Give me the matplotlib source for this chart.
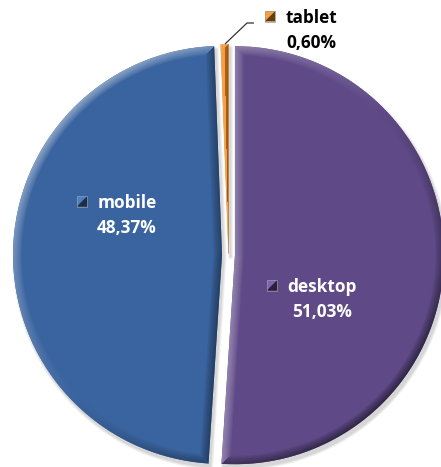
import numpy as np
import matplotlib
matplotlib.use('Agg')
import matplotlib.pyplot as plt
from matplotlib.patches import Polygon, Rectangle
from matplotlib.transforms import IdentityTransform
from matplotlib.colors import to_rgb

# ---- data ----
categories = ['desktop', 'mobile', 'tablet']
shares = [51.03, 48.37, 0.60]
value_labels = ['51,03%', '48,37%', '0,60%']

# ---- styling ----
slice_colors = ['#5F4A87', '#3A649F', '#EE8416']
marker_light = ['#7E62B4', '#4E7FC4', '#F7A040']
marker_dark = ['#2B2040', '#1C2E4C', '#6B3C0A']
text_colors = ['white', 'white', 'black']

W, H, DPI = 441, 467, 100
R_PX = 209.0
CX, CY = 228.5, 255.0  # pie centre in image pixels (from top-left)


def px(x, y):
    return ((x - CX) / R_PX, (CY - y) / R_PX)


fig = plt.figure(figsize=(W / DPI, H / DPI), dpi=DPI)
ax = fig.add_axes([0, 0, 1, 1])
x0, y1 = px(0, 0)
x1, y0 = px(W, H)

wedges, _ = ax.pie(shares, colors=slice_colors, startangle=90, counterclock=False,
                   explode=[0.031, 0.031, 0.008], radius=1.0,
                   wedgeprops=dict(linewidth=0, antialiased=True))
for w in wedges:
    w.set_zorder(1)

# ---- bevel shading drawn from each wedge's geometry ----
jj = np.arange(W)
ii = np.arange(H)
gx = x0 + (jj + 0.5) / R_PX
gy = y1 - (ii + 0.5) / R_PX
GX, GY = np.meshgrid(gx, gy)
L = np.array([-1.0, 1.0]) / np.sqrt(2)
BEVEL_PX = 9.0


def wedge_field(w, ox=0.0, oy=0.0):
    c = np.array(w.center) + np.array([ox, oy])
    r = w.r
    t1, t2 = np.radians(w.theta1), np.radians(w.theta2)
    vx = GX - c[0]
    vy = GY - c[1]
    dist = np.hypot(vx, vy) + 1e-12
    ang = np.arctan2(vy, vx)
    in_ang = np.mod(ang - t1, 2 * np.pi) <= (t2 - t1)
    inside = in_ang & (dist < r)
    e1 = np.array([np.cos(t1), np.sin(t1)]) * r
    e2 = np.array([np.cos(t2), np.sin(t2)]) * r
    dend = np.minimum(np.hypot(vx - e1[0], vy - e1[1]), np.hypot(vx - e2[0], vy - e2[1]))
    d_arc = np.where(in_ang, np.abs(r - dist), dend)

    def ray(t):
        u = np.array([np.cos(t), np.sin(t)])
        proj = vx * u[0] + vy * u[1]
        perp = np.abs(-vx * u[1] + vy * u[0])
        return np.where(proj >= 0,
                        np.where(proj <= r, perp, np.hypot(vx - u[0] * r, vy - u[1] * r)),
                        dist)

    D = np.stack([d_arc, ray(t1), ray(t2)])
    idx = np.argmin(D, axis=0)
    dmin = np.min(D, axis=0)
    n1 = np.array([np.sin(t1), -np.cos(t1)])
    n2 = np.array([-np.sin(t2), np.cos(t2)])
    s_arc = (vx * L[0] + vy * L[1]) / dist
    s = np.where(idx == 0, s_arc, np.where(idx == 1, n1 @ L, n2 @ L))
    sd = np.where(inside, dmin, -dmin) * R_PX
    return sd, dmin * R_PX, s


img = np.zeros((H, W, 4))
shadow = np.zeros((H, W, 4))
for w, col in zip(wedges, slice_colors):
    sd, dpx, s = wedge_field(w)
    alpha = np.clip(sd + 0.5, 0, 1)
    wgt = np.clip(1 - dpx / BEVEL_PX, 0, 1) ** 0.8
    base = np.array(to_rgb(col))
    s3 = s[..., None]
    shaded = np.where(s3 > 0, base + (1 - base) * 0.42 * s3, base * (1 + 0.5 * s3))
    color = base + (shaded - base) * wgt[..., None]
    m = alpha > 0
    img[m, :3] = color[m]
    img[m, 3] = np.maximum(img[m, 3], alpha[m])
    # soft drop shadow (offset down-right)
    ssd, _, _ = wedge_field(w, 2.0 / R_PX, -3.5 / R_PX)
    sa = np.clip(1 + ssd / 3.0, 0, 1) * 0.25
    shadow[..., 3] = np.maximum(shadow[..., 3], sa)
shadow[..., :3] = 0.35

ax.imshow(shadow, extent=(x0, x1, y0, y1), origin='upper', interpolation='bilinear', zorder=0.5)
ax.imshow(img, extent=(x0, x1, y0, y1), origin='upper', interpolation='nearest', zorder=2)

# ---- leader line for tablet ----
lx, ly = zip(px(225, 44), px(247, 23), px(254, 23))
ax.plot(lx, ly, color='#333333', lw=0.9, zorder=4, solid_capstyle='butt')

ax.set_xlim(x0, x1)
ax.set_ylim(y0, y1)
ax.set_aspect('equal')
ax.axis('off')

# ---- labels ----
label_layout = {'mobile': (127, 208, 233), 'desktop': (322, 292, 317), 'tablet': (311, 23, 48)}
font = dict(fontsize=12.4, fontweight='bold', family=['Open Sans', 'DejaVu Sans'])
first_lines = []
for i, cat in enumerate(categories):
    xc, b1, b2 = label_layout[cat]
    t = ax.text(*px(xc, b1), cat, ha='center', va='baseline', color=text_colors[i], zorder=5, **font)
    ax.text(*px(xc, b2), value_labels[i], ha='center', va='baseline', color=text_colors[i], zorder=5, **font)
    first_lines.append((t, b1, i))

fig.canvas.draw()
renderer = fig.canvas.get_renderer()
for t, b1, i in first_lines:
    bb = t.get_window_extent(renderer)
    size = 10.5
    xb = bb.x0 - 10
    xa = xb - size
    ya = (H - b1) + 1.5
    yb = ya + size
    fig.add_artist(Polygon([(xa, ya), (xa, yb), (xb, yb)], closed=True, transform=IdentityTransform(),
                           facecolor=marker_light[i], edgecolor='none', zorder=6))
    fig.add_artist(Polygon([(xa, ya), (xb, yb), (xb, ya)], closed=True, transform=IdentityTransform(),
                           facecolor=marker_dark[i], edgecolor='none', zorder=6))
    fig.add_artist(Rectangle((xa, ya), size, size, transform=IdentityTransform(),
                             facecolor='none', edgecolor='#9A9A9A', lw=0.5, zorder=7))

fig.savefig('out.png', dpi=DPI)
